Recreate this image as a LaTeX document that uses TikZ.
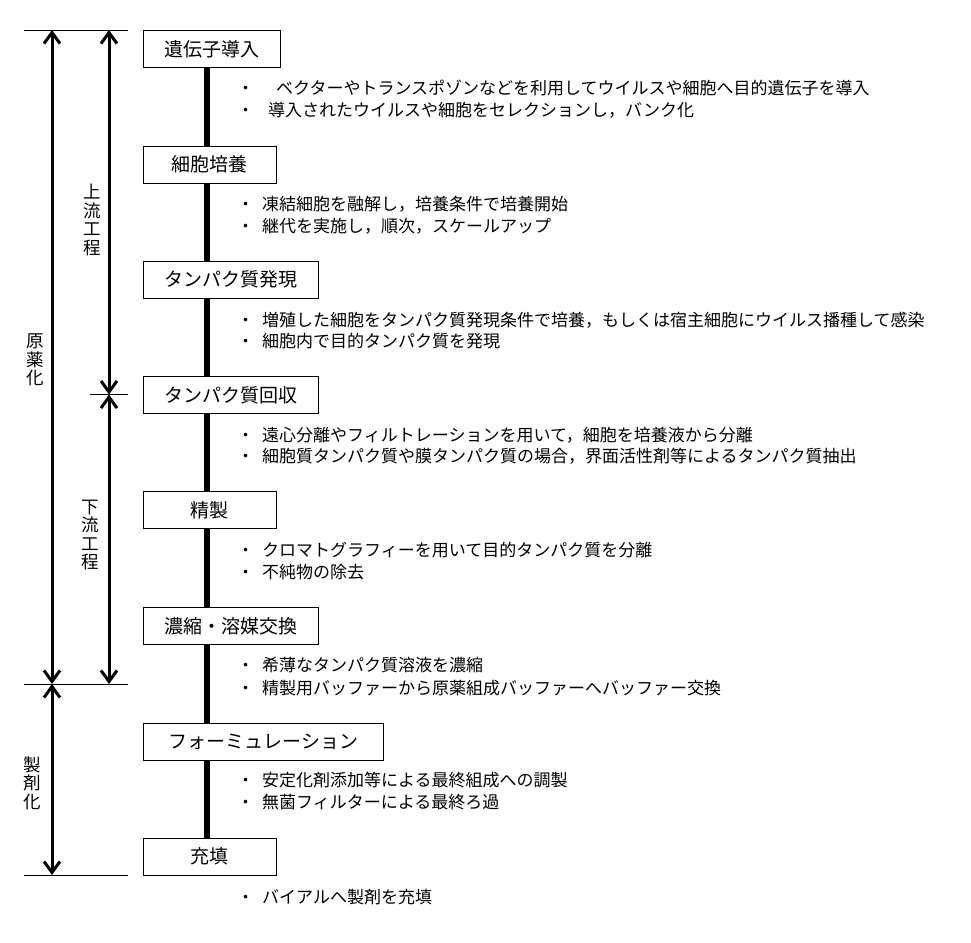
\documentclass[tikz,border=0pt]{standalone}
\usepackage{fontspec}
\setmainfont{Noto Sans CJK JP}
\usetikzlibrary{arrows.meta, positioning}

\tikzset{
  stepbox/.style={draw, line width=0.8pt, fill=white, anchor=west, minimum width=133pt,
    minimum height=37pt, inner xsep=21pt, font=\fontsize{19}{19}\selectfont},
  note/.style={anchor=west, inner sep=0pt, font=\fontsize{17}{22}\selectfont},
  spine/.style={line width=6pt},
  span/.style={line width=3pt, {Straight Barb[length=11pt,width=16pt]}-{Straight Barb[length=11pt,width=16pt]}},
  tick/.style={line width=0.8pt},
  side/.style={align=center, inner sep=0pt, font=\fontsize{17.5}{18.5}\selectfont}
}

\begin{document}
\begin{tikzpicture}[x=1pt, y=-1pt]
    \useasboundingbox (0,0) rectangle (971,942);
    % process steps
    \node[stepbox] (b1) at (143,49)    {遺伝子導入};
    \node[stepbox] (b2) at (143,164.5) {細胞培養};
    \node[stepbox] (b3) at (143,279.5) {タンパク質発現};
    \node[stepbox] (b4) at (143,395)   {タンパク質回収};
    \node[stepbox] (b5) at (143,510)   {精製};
    \node[stepbox] (b6) at (143,626)   {濃縮・溶媒交換};
    \node[stepbox, minimum width=240pt] (b7) at (143,741.5) {フォーミュレーション};
    \node[stepbox] (b8) at (143,856.5) {充填};
    \coordinate (ax) at (207,0);
    \draw[spine] (b1.south -| ax) -- (b2.north -| ax);
    \draw[spine] (b2.south -| ax) -- (b3.north -| ax);
    \draw[spine] (b3.south -| ax) -- (b4.north -| ax);
    \draw[spine] (b4.south -| ax) -- (b5.north -| ax);
    \draw[spine] (b5.south -| ax) -- (b6.north -| ax);
    \draw[spine] (b6.south -| ax) -- (b7.north -| ax);
    \draw[spine] (b7.south -| ax) -- (b8.north -| ax);
    % notes
    \node[note] (n1a) at (237,88)  {・\hspace{22pt}ベクターやトランスポゾンなどを利用してウイルスや細胞へ目的遺伝子を導入};
    \node[note] (n1b) at (237,110) {・\hspace{14pt}導入されたウイルスや細胞をセレクションし，バンク化};
    \node[note] (n2a) at (237,204) {・\hspace{8pt}凍結細胞を融解し，培養条件で培養開始};
    \node[note] (n2b) at (237,226) {・\hspace{8pt}継代を実施し，順次，スケールアップ};
    \node[note] (n3a) at (237,320) {・\hspace{8pt}増殖した細胞をタンパク質発現条件で培養，もしくは宿主細胞にウイルス播種して感染};
    \node[note] (n3b) at (237,341) {・\hspace{8pt}細胞内で目的タンパク質を発現};
    \node[note] (n4a) at (237,435) {・\hspace{8pt}遠心分離やフィルトレーションを用いて，細胞を培養液から分離};
    \node[note] (n4b) at (237,456) {・\hspace{8pt}細胞質タンパク質や膜タンパク質の場合，界面活性剤等によるタンパク質抽出};
    \node[note] (n5a) at (237,550) {・\hspace{8pt}クロマトグラフィーを用いて目的タンパク質を分離};
    \node[note] (n5b) at (237,572) {・\hspace{8pt}不純物の除去};
    \node[note] (n6a) at (237,665) {・\hspace{8pt}希薄なタンパク質溶液を濃縮};
    \node[note] (n6b) at (237,688) {・\hspace{8pt}精製用バッファーから原薬組成バッファーへバッファー交換};
    \node[note] (n7a) at (237,780) {・\hspace{8pt}安定化剤添加等による最終組成への調製};
    \node[note] (n7b) at (237,802) {・\hspace{8pt}無菌フィルターによる最終ろ過};
    \node[note] (n8a) at (237,897) {・\hspace{8pt}バイアルへ製剤を充填};
    % ranges on the left
    \coordinate (r0) at (0,30);
    \coordinate (r1) at (0,394.5);
    \coordinate (r2) at (0,684);
    \coordinate (r3) at (0,875);
    \coordinate (oa) at (52,0);
    \coordinate (ia) at (109,0);
    \draw[tick] (24,30) -- (128,30);
    \draw[tick] (90,394.5) -- (128,394.5);
    \draw[tick] (24,684) -- (128,684);
    \draw[tick] (24,875) -- (128,875);
    \draw[span] (oa |- r0) -- (oa |- r2);
    \draw[span] (ia |- r0) -- (ia |- r1);
    \draw[span] (ia |- r1) -- (ia |- r2);
    \draw[span] (oa |- r2) -- (oa |- r3);
    \node[side] (l1) at (35,360) {原\\薬\\化};
    \node[side] (l2) at (92,220) {上\\流\\工\\程};
    \node[side] (l3) at (90,535) {下\\流\\工\\程};
    \node[side] (l4) at (32,783) {製\\剤\\化};
\end{tikzpicture}
\end{document}
